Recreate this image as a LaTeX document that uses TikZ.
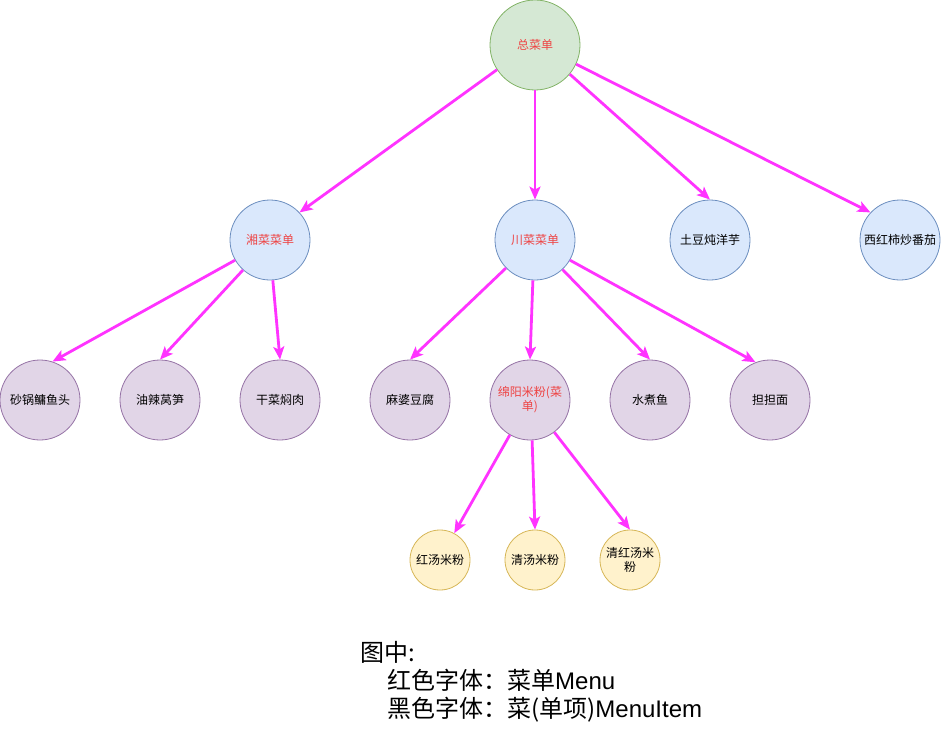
\documentclass[tikz,border=0pt]{standalone}
\usepackage{fontspec}
\setmainfont{Noto Sans CJK SC}
\newfontfamily\latinfont{Liberation Sans}
\usepackage{tikz}
\usetikzlibrary{arrows.meta}
\usepackage{xcolor}
\definecolor{rosa}{HTML}{FF33FF}
\definecolor{rojoMenu}{HTML}{EE4444}
\definecolor{verdeFondo}{HTML}{D5E8D4}
\definecolor{verdeBorde}{HTML}{82B366}
\definecolor{azulFondo}{HTML}{DAE8FC}
\definecolor{azulBorde}{HTML}{6C8EBF}
\definecolor{moradoFondo}{HTML}{E1D5E7}
\definecolor{moradoBorde}{HTML}{9673A6}
\definecolor{amarilloFondo}{HTML}{FFF2CC}
\definecolor{amarilloBorde}{HTML}{D6B656}

\begin{document}
\begin{tikzpicture}[
		x=1pt, y=-1pt, % 1px = 1pt, eje y hacia abajo
		% --- Estilos ---
		circulo/.style={
			draw,
			circle,
			inner sep=0pt,
			align=center,
			line width=0.8pt,
			font=\fontsize{12pt}{14pt}\selectfont
		},
		circulo_raiz/.style={circulo, minimum size=90pt, fill=verdeFondo, draw=verdeBorde},
		circulo_menu/.style={circulo, minimum size=80pt, fill=azulFondo, draw=azulBorde},
		circulo_plato/.style={circulo, minimum size=80pt, fill=moradoFondo, draw=moradoBorde},
		circulo_fideo/.style={circulo, minimum size=60pt, fill=amarilloFondo, draw=amarilloBorde},
		texto_rojo/.style={text=rojoMenu},
		flecha/.style={
			-{Stealth[length=13pt, width=11pt, inset=3pt]},
			line width=2.8pt,
			draw=rosa
		}
		]
		\useasboundingbox (0,0) rectangle (941,741);
		
		% 1. Raiz
		\node[circulo_raiz, texto_rojo] (raiz) at (535,45) {总菜单};
		
		% 2. Segundo nivel
		\node[circulo_menu, texto_rojo] (xiang) at (270,240) {湘菜菜单};
		\node[circulo_menu, texto_rojo] (chuan) at (535,240) {川菜菜单};
		\node[circulo_menu] (tudou) at (710,240) {土豆炖洋芋};
		\node[circulo_menu] (xihongshi) at (900,240) {西红柿炒番茄};
		
		% 3. Platos
		\node[circulo_plato] (shaguo) at (40,400) {砂锅鳙鱼头};
		\node[circulo_plato] (youla) at (160,400) {油辣莴笋};
		\node[circulo_plato] (gancai) at (280,400) {干菜焖肉};
		\node[circulo_plato] (mapo) at (410,400) {麻婆豆腐};
		\node[circulo_plato, texto_rojo] (mianyang) at (530,400) {绵阳米粉(菜\\单)};
		\node[circulo_plato] (shuizhu) at (650,400) {水煮鱼};
		\node[circulo_plato] (dandan) at (770,400) {担担面};
		
		% 4. Fideos
		\node[circulo_fideo] (hongtang) at (440,560) {红汤米粉};
		\node[circulo_fideo] (qingtang) at (535,560) {清汤米粉};
		\node[circulo_fideo] (qinghong) at (630,560) {清红汤米\\粉};
		
		% 5. Flechas
		\draw[flecha] (raiz.213) -- (xiang.43);
		\draw[flecha] (raiz.south) -- (chuan.north);
		\draw[flecha] (raiz.-40) -- (tudou.north);
		\draw[flecha] (raiz.-25) -- (xihongshi.137);
		
		\draw[flecha] (xiang.210) -- (shaguo.72);
		\draw[flecha] (xiang.228) -- (youla.north);
		\draw[flecha] (xiang.-86) -- (gancai.north);
		
		\draw[flecha] (chuan.224) -- (mapo.north);
		\draw[flecha] (chuan.-93) -- (mianyang.north);
		\draw[flecha] (chuan.-47) -- (shuizhu.north);
		\draw[flecha] (chuan.-30) -- (dandan.111);
		
		\draw[flecha] (mianyang.240) -- (hongtang.62);
		\draw[flecha] (mianyang.-87) -- (qingtang.north);
		\draw[flecha] (mianyang.-53) -- (qinghong.north);
		
		% 6. Leyenda
		\node[anchor=north west, align=left, inner sep=0pt,
		font=\fontsize{24pt}{28pt}\selectfont] (leyenda) at (360,641)
		{图中:\\
			\hspace*{27pt}红色字体：菜单{\latinfont Menu}\\
			\hspace*{27pt}黑色字体：菜(单项){\latinfont MenuItem}};
		
	\end{tikzpicture}
\end{document}
